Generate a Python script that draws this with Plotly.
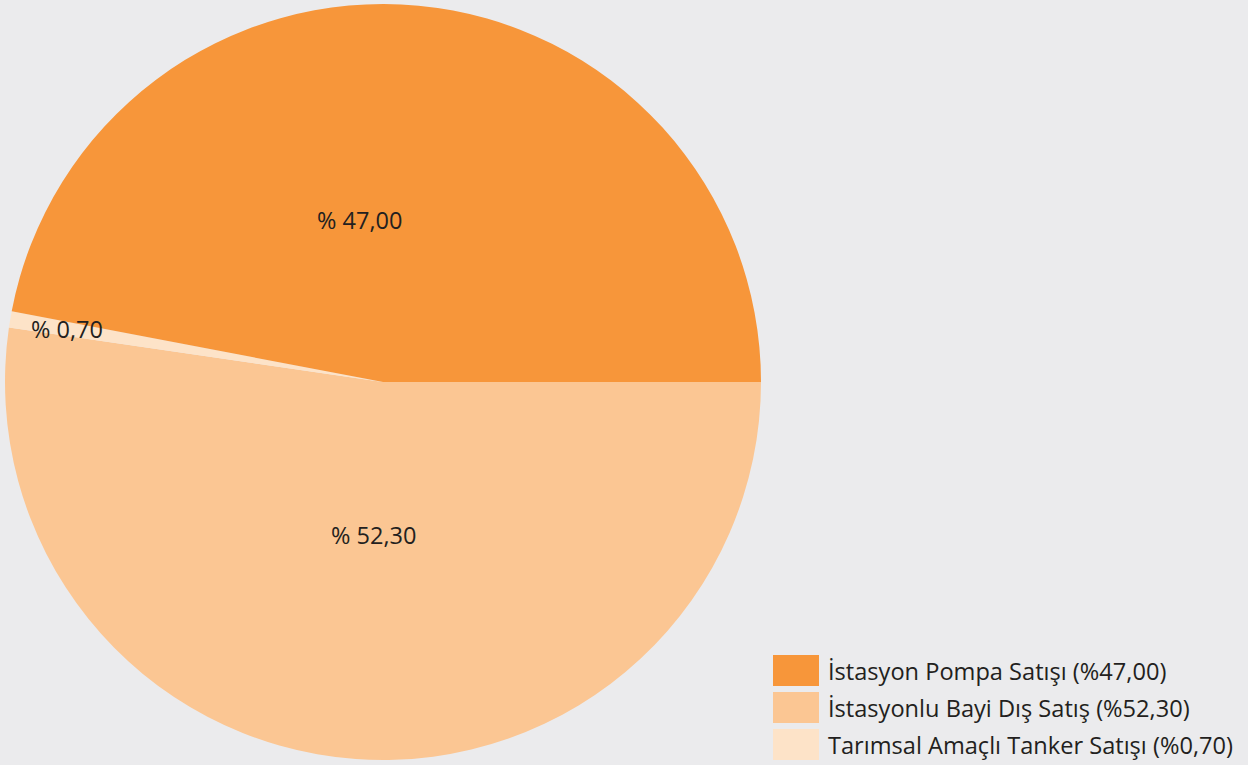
import plotly.graph_objects as go

labels = ["İstasyon Pompa Satışı", "İstasyonlu Bayi Dış Satış", "Tarımsal Amaçlı Tanker Satışı"]
values = [47.00, 52.30, 0.70]
slice_text = ["% 47,00", "% 52,30", "% 0,70"]
legend_text = ["İstasyon Pompa Satışı (%47,00)", "İstasyonlu Bayi Dış Satış (%52,30)", "Tarımsal Amaçlı Tanker Satışı (%0,70)"]
colors = ["#F7963A", "#FBC693", "#FDE3C8"]

# clockwise from 3 o'clock: 52.30, 0.70, 47.00
order = [1, 2, 0]

W, H = 1248, 765
bg = "#EBEBED"
font = "Open Sans"
txtcol = "#231F20"

fig = go.Figure()
fig.add_trace(go.Pie(
    labels=[labels[i] for i in order],
    values=[values[i] for i in order],
    marker=dict(colors=[colors[i] for i in order], line=dict(width=0)),
    sort=False,
    direction="clockwise",
    rotation=90,
    textinfo="none",
    hoverinfo="label+percent",
    showlegend=False,
    domain=dict(x=[5/W, 761/W], y=[5/H, 761/H]),
))

# slice labels
label_pos = [(360, 220), (373, 535), (67, 329)]
annotations = []
for t, (px, py) in zip(slice_text, label_pos):
    annotations.append(dict(x=px/W, y=1-py/H, xref="paper", yref="paper", text=t,
                            showarrow=False, font=dict(family=font, size=23.5, color=txtcol),
                            xanchor="center", yanchor="middle"))

# custom legend
shapes = []
leg_y = [670.5, 707.5, 744.5]
for c, t, y in zip(colors, legend_text, leg_y):
    shapes.append(dict(type="rect", xref="paper", yref="paper",
                       x0=773/W, x1=819/W, y0=1-(y+15.5)/H, y1=1-(y-15.5)/H,
                       fillcolor=c, line=dict(width=0)))
    annotations.append(dict(x=826/W, y=1-y/H, xref="paper", yref="paper", text=t,
                            showarrow=False, font=dict(family=font, size=23.6, color=txtcol),
                            xanchor="left", yanchor="middle"))

fig.update_layout(
    width=W, height=H,
    margin=dict(l=0, r=0, t=0, b=0),
    paper_bgcolor=bg, plot_bgcolor=bg,
    annotations=annotations, shapes=shapes,
)
fig.write_html("out.html", config={"displayModeBar": False},
               post_script="document.body.style.margin='0';document.body.style.background='#EBEBED';")
